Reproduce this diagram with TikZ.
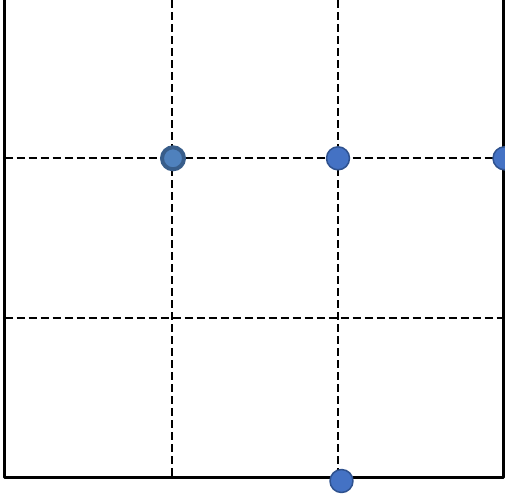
\documentclass[tikz,border=0pt]{standalone}
\definecolor{ink}{HTML}{000000}
\definecolor{dotfill}{HTML}{4472C4}
\definecolor{dotrim}{HTML}{2F528F}
\definecolor{hubfill}{HTML}{4F81BD}
\definecolor{hubrim}{HTML}{385D8A}
\tikzset{
  every picture/.style = {line join=round},
  frame/.style         = {line width=3pt, draw=ink},
  gridline/.style      = {line width=2pt, draw=ink, dash pattern=on 8pt off 4pt},
  dot/.style           = {circle, inner sep=0pt, minimum size=23pt, fill=dotfill, draw=dotrim, line width=1.5pt},
  hub/.style           = {circle, inner sep=0pt, minimum size=22pt, fill=hubfill, draw=hubrim, line width=4pt},
}

\begin{document}
\begin{tikzpicture}[x=1pt, y=-1pt]
  \useasboundingbox (0,0) rectangle (505,499);
  \def\L{4.5}\def\R{503.5}\def\B{477.5}   % frame edges (top runs off the page)
  \def\Xa{171.7}\def\Xb{337.7}           % the two inner columns
  \def\Ya{157.5}\def\Yb{317.5}           % the two inner rows

  % ---------- the dashed grid --------------------------------------------------
  \draw[gridline] (\Xa,0) -- (\Xa,\B);
  \draw[gridline] (\Xb,0) -- (\Xb,\B);
  \draw[gridline] (\L,\Ya) -- (\R,\Ya);
  \draw[gridline] (\L,\Yb) -- (\R,\Yb);

  % ---------- the frame: left, bottom, right -----------------------------------
  \draw[frame] (\L,-2) -- (\L,\B) -- (\R,\B) -- (\R,-2);

  % ---------- the points ------------------------------------------------------
  \node[hub] (p1) at (173,158.3) {};
  \node[dot] (p2) at (338,158.3) {};
  \node[dot] (p3) at (504.5,158.3) {};
  \node[dot] (p4) at (341.5,481) {};
\end{tikzpicture}
\end{document}
